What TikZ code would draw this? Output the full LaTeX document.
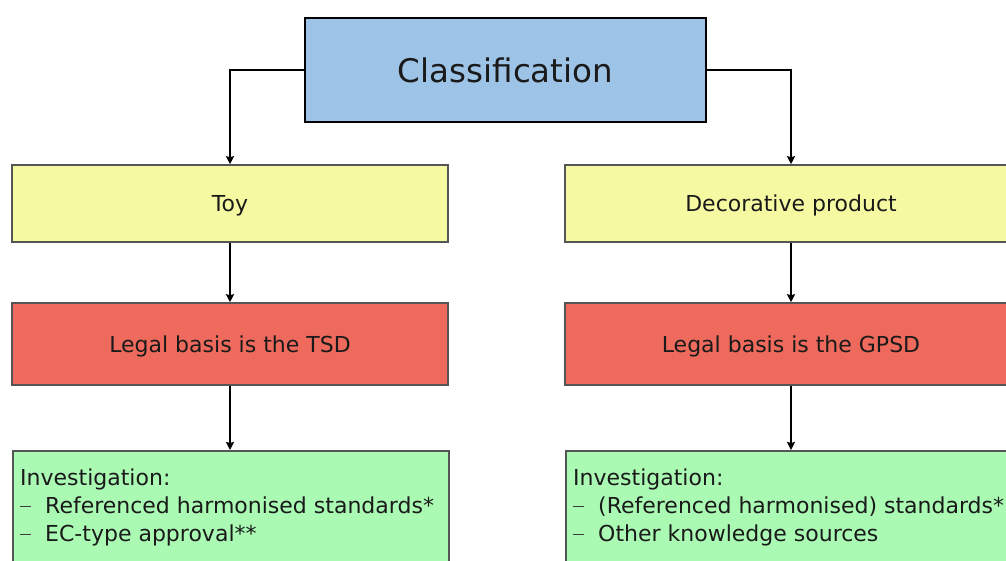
\documentclass[tikz,border=0pt]{standalone}
\usepackage{fontspec}
\setmainfont{DejaVu Sans}
\usetikzlibrary{arrows.meta}
\definecolor{cblue}{HTML}{9DC3E6}
\definecolor{cyellow}{HTML}{F5FAA2}
\definecolor{cred}{HTML}{EE6A5C}
\definecolor{cgreen}{HTML}{AAFAB4}
\definecolor{cborder}{HTML}{555555}
\definecolor{ctext}{HTML}{1A1A1A}
\tikzset{
  box/.style={draw=cborder, line width=1.6pt, minimum width=436pt, inner sep=0pt, font=\fontsize{22}{26}\selectfont, text=ctext},
  boxlabel/.style={font=\fontsize{22}{26}\selectfont, text=ctext, yshift=-2pt},
  topbox/.style={draw=black, line width=2.6pt, fill=cblue, minimum width=401pt, minimum height=104pt, font=\fontsize{32.5}{38}\selectfont, text=ctext},
  conn/.style={line width=2pt, -{Stealth[length=8pt,width=8pt,inset=1pt]}},
  listtext/.style={align=left, anchor=north west, inner sep=0pt, font=\fontsize{22}{28}\selectfont, text=ctext}
}
\newcommand{\dashitem}{\makebox[25pt][l]{\color{ctext!85}\rule[6.5pt]{11pt}{1.2pt}}}
\begin{document}
\begin{tikzpicture}[x=1pt,y=-1pt]
\useasboundingbox (0,0) rectangle (1006,560);
\clip (0,0) rectangle (1006,560);
\node[topbox] (cls) at (505.5,70) {Classification};
\node[box, fill=cyellow, minimum height=77pt] (toy) at (230,203.5) {};
\node[boxlabel] (toyt) at (230,203.5) {Toy};
\node[box, fill=cyellow, minimum height=77pt, minimum width=452pt] (deco) at (791,203.5) {};
\node[boxlabel] (decot) at (791,203.5) {Decorative product};
\node[box, fill=cred, minimum height=82pt] (tsd) at (230,344) {};
\node[boxlabel] (tsdt) at (230,344) {Legal basis is the TSD};
\node[box, fill=cred, minimum height=82pt, minimum width=452pt] (gpsd) at (791,344) {};
\node[boxlabel] (gpsdt) at (791,344) {Legal basis is the GPSD};
\node[box, fill=cgreen, minimum height=130pt, anchor=north west] (inv1) at (12,450) {};
\node[box, fill=cgreen, minimum height=130pt, minimum width=452pt, anchor=north west] (inv2) at (565,450) {};
\node[listtext] (inv1t) at ([xshift=8pt,yshift=-19pt]inv1.north west) {Investigation:\\\dashitem Referenced harmonised standards*\\\dashitem EC-type approval**};
\node[listtext] (inv2t) at ([xshift=8pt,yshift=-19pt]inv2.north west) {Investigation:\\\dashitem (Referenced harmonised) standards*\\\dashitem Other knowledge sources};
\draw[conn] (cls.west) -| (toy.north);
\draw[conn] (cls.east) -| (deco.north);
\draw[conn] (toy) -- (tsd);
\draw[conn] (deco) -- (gpsd);
\draw[conn] (tsd) -- (inv1.north -| tsd.south);
\draw[conn] (gpsd) -- (inv2.north -| gpsd.south);
\end{tikzpicture}
\end{document}
